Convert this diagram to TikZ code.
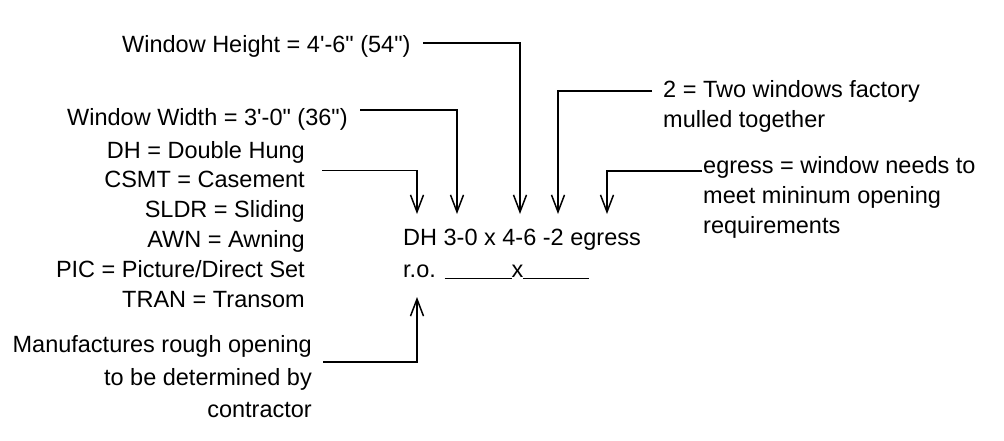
\documentclass[tikz,border=0pt]{standalone}
\usepackage{fontspec}
\setmainfont{Liberation Sans}
\usetikzlibrary{arrows.meta}
\begin{document}
\begin{tikzpicture}[x=1pt,y=-1pt,
  lbl/.style={inner sep=0pt, font=\fontsize{23.5}{28}\selectfont},
  lw/.style={lbl, anchor=base west},
  le/.style={lbl, anchor=base east},
  conn/.style={line width=1.5pt},
  arr/.style={conn, -{Straight Barb[length=17pt,width=13pt,line width=1.5pt]}}]
\useasboundingbox (0,0) rectangle (1004,441);
% labels
\node[lw] (hgt) at (122,53) {Window Height = 4\textquotesingle-6\textquotedbl{} (54\textquotedbl)};
\node[lw] (wid) at (67,126) {Window Width = 3\textquotesingle-0\textquotedbl{} (36\textquotedbl)};
\node[le] (dh)   at (305,158)   {DH = Double Hung};
\node[le] (csmt) at (305,187.8) {CSMT = Casement};
\node[le] (sldr) at (305,217.6) {SLDR = Sliding};
\node[le] (awn)  at (305,247.4) {AWN = Awning};
\node[le] (pic)  at (305,277.2) {PIC = Picture/Direct Set};
\node[le] (tran) at (305,307)   {TRAN = Transom};
\node[lw] (two1) at (663,98)    {2 = Two windows factory};
\node[lw] (two2) at (663,127.5) {mulled together};
\node[lw] (eg1) at (703,174)   {egress = window needs to};
\node[lw] (eg2) at (703,203.5) {meet mininum opening};
\node[lw] (eg3) at (703,233)   {requirements};
\node[lw] (code) at (403,245) {DH 3-0 x 4-6 -2 egress};
\node[lw] (ro) at (403,277) {r.o. \rule[-2pt]{67pt}{1.5pt}x\rule[-2pt]{66pt}{1.5pt}};
\node[le] (mf1) at (312,352) {Manufactures rough opening};
\node[le] (mf2) at (312,385) {to be determined by};
\node[le] (mf3) at (312,417) {contractor};
% connector ends
\coordinate (hS) at (423,43);   \coordinate (hT) at (520,214);
\coordinate (wS) at (360,110);  \coordinate (wT) at (457,214);
\coordinate (cS) at (322,170.7);\coordinate (cT) at (417,214);
\coordinate (tS) at (652,91);   \coordinate (tT) at (558,214);
\coordinate (eS) at (702,171);  \coordinate (eT) at (607,214);
\coordinate (mS) at (323,362);  \coordinate (mT) at (417,297);
% connectors
\draw[arr] (hS) -| (hT);
\draw[arr] (wS) -| (wT);
\draw[arr] (cS) -| (cT);
\draw[arr] (tS) -| (tT);
\draw[arr] (eS) -| (eT);
\draw[arr] (mS) -| (mT);
\end{tikzpicture}
\end{document}
